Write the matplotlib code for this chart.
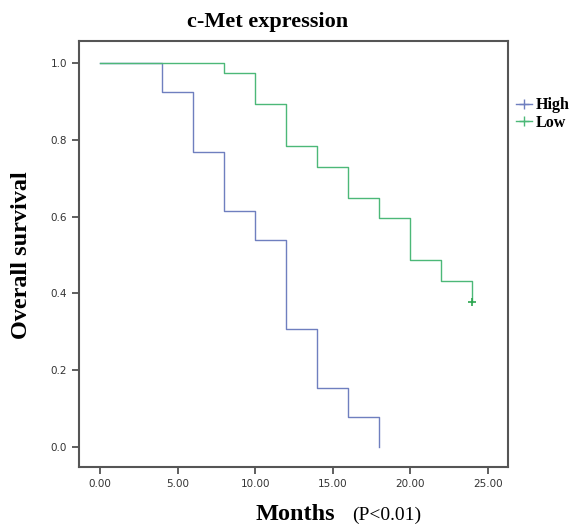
import matplotlib.pyplot as plt
from matplotlib.lines import Line2D

# Kaplan-Meier step values
high_times = [0, 4, 6, 8, 10, 12, 14, 16, 18]
high_surv = [1.0, 0.923, 0.769, 0.615, 0.538, 0.308, 0.154, 0.077, 0.0]
low_times = [0, 8, 10, 12, 14, 16, 18, 20, 22, 24]
low_surv = [1.0, 0.973, 0.892, 0.784, 0.730, 0.649, 0.595, 0.486, 0.432, 0.378]
censor_low = [(24, 0.378)]

x_ticks = [0, 5, 10, 15, 20, 25]
y_ticks = [0.0, 0.2, 0.4, 0.6, 0.8, 1.0]

high_color = "#6f7fbf"
low_color = "#4cb878"
serif = "Liberation Serif"

fig = plt.figure(figsize=(5.74, 5.25), dpi=100)
ax = fig.add_axes([0.1376, 0.1105, 0.7474, 0.8114])

ax.step(high_times, high_surv, where="post", color=high_color, lw=1.0)
ax.step(low_times, low_surv, where="post", color=low_color, lw=1.0)
for cx, cy in censor_low:
    ax.plot(cx, cy, marker="+", color="#2ca64f", ms=6, mew=1.2)

ax.set_xlim(-1.35, 26.3)
ax.set_ylim(-0.052, 1.057)
ax.set_xticks(x_ticks)
ax.set_xticklabels(["{:.2f}".format(t) for t in x_ticks])
ax.set_yticks(y_ticks)
ax.set_yticklabels(["{:.1f}".format(t) for t in y_ticks])
ax.tick_params(direction="out", length=5, width=1.2, labelsize=7.5, color="#444444",
               labelcolor="#333333")
for sp in ax.spines.values():
    sp.set_color("#555555")
    sp.set_linewidth(1.5)

# Titles and labels
fig.text(268 / 574, 1 - 22 / 525, "c-Met expression", ha="center", va="center",
         family=serif, weight="bold", fontsize=16)
fig.text(22 / 574, 1 - 255 / 525, "Overall survival", ha="center", va="center",
         rotation=90, family=serif, weight="bold", fontsize=17.5)
fig.text(295 / 574, 1 - 514 / 525, "Months", ha="center", va="center",
         family=serif, weight="bold", fontsize=17.5)
fig.text(387 / 574, 1 - 515 / 525, "(P<0.01)", ha="center", va="center",
         family=serif, fontsize=14)

handles = [Line2D([], [], color=high_color, marker="+", ms=7, lw=1.0),
           Line2D([], [], color=low_color, marker="+", ms=7, lw=1.0)]
fig.legend(handles, ["High", "Low"], loc="upper left",
           bbox_to_anchor=(505 / 574, 1 - 86 / 525), frameon=False,
           prop={"family": serif, "weight": "bold", "size": 11.5},
           handlelength=1.0, handletextpad=0.2, labelspacing=0.1, borderpad=0.2)

fig.savefig("out.png", dpi=100)
